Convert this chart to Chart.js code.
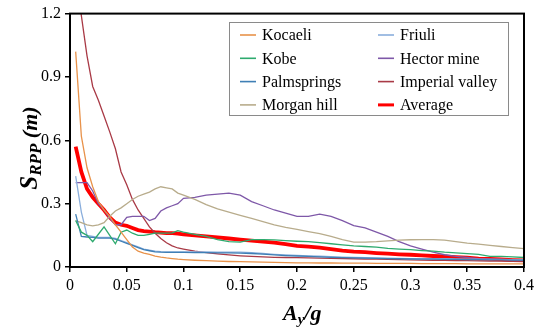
<!DOCTYPE html>
<html>
<head>
<meta charset="utf-8">
<script src="https://cdn.jsdelivr.net/npm/chart.js@4"></script>
<style>
  html, body { margin: 0; padding: 0; background: #fff; }
  #wrap { width: 540px; height: 334px; }
</style>
</head>
<body>
<div id="wrap"><canvas id="chart" width="540" height="334"></canvas></div>
<script>
// Ay/g grid: 0.005 steps up to 0.1, then 0.01 steps to 0.4
const AY = [0.005,0.01,0.015,0.02,0.025,0.03,0.035,0.04,0.045,0.05,0.055,0.06,0.065,0.07,0.075,0.08,0.085,0.09,0.095,0.1,
  0.11,0.12,0.13,0.14,0.15,0.16,0.17,0.18,0.19,0.2,0.21,0.22,0.23,0.24,0.25,0.26,0.27,0.28,0.29,0.3,
  0.31,0.32,0.33,0.34,0.35,0.36,0.37,0.38,0.39,0.4];

const kocaeli = [1.02,0.62,0.47,0.38,0.31,0.27,0.24,0.2,0.165,0.13,0.095,0.075,0.066,0.06,0.052,0.047,0.043,0.04,0.037,0.035,
  0.032,0.03,0.028,0.026,0.025,0.024,0.023,0.022,0.021,0.02,0.02,0.019,0.019,0.018,0.018,0.018,0.017,0.017,0.017,0.017,
  0.016,0.016,0.016,0.016,0.015,0.015,0.015,0.015,0.015,0.015];
const kobe = [0.22,0.165,0.15,0.12,0.155,0.19,0.15,0.11,0.165,0.175,0.16,0.15,0.15,0.155,0.16,0.16,0.16,0.162,0.172,0.165,
  0.155,0.145,0.13,0.12,0.118,0.13,0.13,0.128,0.125,0.122,0.12,0.115,0.11,0.105,0.1,0.097,0.094,0.088,0.085,0.082,
  0.078,0.075,0.07,0.067,0.063,0.06,0.05,0.05,0.048,0.045];
const palmsprings = [0.25,0.145,0.142,0.14,0.137,0.137,0.137,0.132,0.122,0.112,0.102,0.092,0.082,0.077,0.072,0.07,0.069,0.069,0.069,0.069,
  0.068,0.068,0.067,0.067,0.066,0.064,0.061,0.057,0.054,0.052,0.05,0.048,0.046,0.044,0.043,0.042,0.041,0.04,0.039,0.038,
  0.037,0.037,0.036,0.036,0.035,0.035,0.034,0.034,0.033,0.033];
const morganHill = [0.22,0.21,0.2,0.195,0.2,0.21,0.24,0.265,0.28,0.3,0.32,0.335,0.345,0.355,0.37,0.38,0.375,0.37,0.35,0.34,
  0.32,0.295,0.275,0.26,0.245,0.23,0.215,0.2,0.188,0.178,0.168,0.158,0.145,0.13,0.118,0.118,0.12,0.124,0.127,0.129,
  0.13,0.13,0.127,0.12,0.113,0.108,0.102,0.097,0.092,0.087];
const friuli = [0.43,0.26,0.15,0.145,0.14,0.14,0.14,0.135,0.125,0.115,0.105,0.095,0.085,0.08,0.075,0.073,0.072,0.072,0.072,0.072,
  0.071,0.071,0.07,0.07,0.07,0.068,0.064,0.06,0.057,0.055,0.053,0.051,0.049,0.047,0.045,0.044,0.043,0.042,0.041,0.04,
  0.04,0.039,0.039,0.038,0.037,0.037,0.036,0.036,0.035,0.035];
const hectorMine = [0.4,0.4,0.4,0.36,0.3,0.27,0.23,0.2,0.2,0.235,0.24,0.24,0.24,0.22,0.23,0.265,0.28,0.29,0.3,0.325,
  0.33,0.34,0.345,0.35,0.34,0.31,0.29,0.27,0.255,0.24,0.24,0.25,0.24,0.22,0.196,0.185,0.165,0.145,0.12,0.1,
  0.085,0.07,0.058,0.05,0.045,0.04,0.038,0.036,0.034,0.032];
const imperialValley = [1.45,1.19,1.0,0.855,0.79,0.715,0.64,0.56,0.45,0.39,0.32,0.27,0.23,0.19,0.16,0.135,0.115,0.1,0.09,0.085,
  0.075,0.068,0.062,0.057,0.053,0.05,0.048,0.046,0.045,0.044,0.043,0.042,0.041,0.04,0.039,0.038,0.037,0.036,0.035,0.034,
  0.033,0.032,0.031,0.03,0.03,0.029,0.028,0.028,0.027,0.027];
const average = [0.57,0.45,0.37,0.33,0.3,0.27,0.235,0.21,0.2,0.195,0.185,0.175,0.17,0.168,0.165,0.163,0.16,0.16,0.158,0.155,
  0.15,0.145,0.14,0.135,0.13,0.125,0.12,0.115,0.108,0.1,0.096,0.092,0.085,0.078,0.073,0.07,0.066,0.063,0.06,0.058,
  0.055,0.052,0.05,0.047,0.044,0.04,0.038,0.036,0.033,0.031];

const SERIES = [
  { label: 'Kocaeli', data: kocaeli, color: '#E8924A', width: 1.3 },
  { label: 'Kobe', data: kobe, color: '#2EAA6E', width: 1.3 },
  { label: 'Palmsprings', data: palmsprings, color: '#3F7FB5', width: 1.3 },
  { label: 'Morgan hill', data: morganHill, color: '#B8AC8C', width: 1.3 },
  { label: 'Friuli', data: friuli, color: '#8AAEDC', width: 1.3 },
  { label: 'Hector mine', data: hectorMine, color: '#7E58A8', width: 1.3 },
  { label: 'Imperial valley', data: imperialValley, color: '#A93A46', width: 1.3 },
  { label: 'Average', data: average, color: '#FF0000', width: 3.8 }
];

const X_TICKS = [0, 0.05, 0.1, 0.15, 0.2, 0.25, 0.3, 0.35, 0.4];
const Y_TICKS = [0, 0.3, 0.6, 0.9, 1.2];

const SERIF = '"Liberation Serif", "Times New Roman", serif';

// frame, legend box and axis titles
const decor = {
  id: 'decor',
  afterDraw(chart) {
    const ctx = chart.ctx, a = chart.chartArea;
    ctx.save();
    ctx.strokeStyle = '#000';
    ctx.lineWidth = 2;
    ctx.strokeRect(a.left, a.top, a.right - a.left, a.bottom - a.top);

    // legend
    ctx.fillStyle = '#fff';
    ctx.fillRect(229, 22, 279, 93);
    ctx.strokeStyle = '#8a8a8a';
    ctx.lineWidth = 1;
    ctx.strokeRect(229.5, 22.5, 279, 93);
    ctx.font = '16px ' + SERIF;
    ctx.textBaseline = 'middle';
    chart.data.datasets.forEach((ds, i) => {
      const col = Math.floor(i / 4), row = i % 4;
      const x = col ? 378 : 240;
      const y = 35 + row * 23.3;
      ctx.strokeStyle = ds.borderColor;
      ctx.lineWidth = ds.borderWidth > 2 ? 3 : 1.6;
      ctx.beginPath();
      ctx.moveTo(x, y);
      ctx.lineTo(x + 16, y);
      ctx.stroke();
      ctx.fillStyle = '#000';
      ctx.textAlign = 'left';
      ctx.fillText(ds.label, x + 22, y + 1);
    });

    // x title: Ay/g
    ctx.fillStyle = '#000';
    ctx.textBaseline = 'alphabetic';
    ctx.textAlign = 'left';
    let x = 283;
    ctx.font = 'italic bold 22px ' + SERIF;
    ctx.fillText('A', x, 320); x += ctx.measureText('A').width;
    ctx.font = 'italic bold 15px ' + SERIF;
    ctx.fillText('y', x, 324); x += ctx.measureText('y').width;
    ctx.font = 'italic bold 22px ' + SERIF;
    ctx.fillText('/g', x, 320);

    // y title: SRPP (m)
    ctx.translate(37, 148);
    ctx.rotate(-Math.PI / 2);
    const parts = [
      ['S', 'italic bold 25px ', 0],
      ['RPP', 'italic bold 17px ', 4],
      [' (m)', 'italic bold 22px ', 0]
    ];
    let w = 0;
    parts.forEach(p => { ctx.font = p[1] + SERIF; w += ctx.measureText(p[0]).width; });
    let tx = -w / 2;
    parts.forEach(p => {
      ctx.font = p[1] + SERIF;
      ctx.fillText(p[0], tx, p[2]);
      tx += ctx.measureText(p[0]).width;
    });
    ctx.restore();
  }
};

new Chart(document.getElementById('chart'), {
  type: 'line',
  data: {
    datasets: SERIES.map(s => ({
      label: s.label,
      data: AY.map((x, i) => ({ x, y: s.data[i] })),
      borderColor: s.color,
      backgroundColor: s.color,
      borderWidth: s.width,
      pointRadius: 0,
      tension: 0,
      fill: false
    }))
  },
  options: {
    responsive: false,
    animation: false,
    devicePixelRatio: 1,
    layout: { padding: { top: 8, right: 16, left: 0, bottom: 0 } },
    plugins: { legend: { display: false }, tooltip: { enabled: false } },
    scales: {
      x: {
        type: 'linear', min: 0, max: 0.4,
        afterBuildTicks: s => { s.ticks = X_TICKS.map(v => ({ value: v })); },
        afterFit: s => { s.height = 67; },
        border: { display: false },
        grid: { drawOnChartArea: false, drawTicks: true, tickLength: 5, color: '#000', lineWidth: 1.5 },
        ticks: { color: '#000', padding: 4, maxRotation: 0, font: { family: SERIF, size: 16 }, callback: v => String(v) }
      },
      y: {
        min: 0, max: 1.2,
        afterBuildTicks: s => { s.ticks = Y_TICKS.map(v => ({ value: v })); },
        afterFit: s => { s.width = 70; },
        border: { display: false },
        grid: { drawOnChartArea: false, drawTicks: true, tickLength: 5, color: '#000', lineWidth: 1.5 },
        ticks: { color: '#000', padding: 4, font: { family: SERIF, size: 16 }, callback: v => String(v) }
      }
    }
  },
  plugins: [decor]
});
</script>
</body>
</html>
